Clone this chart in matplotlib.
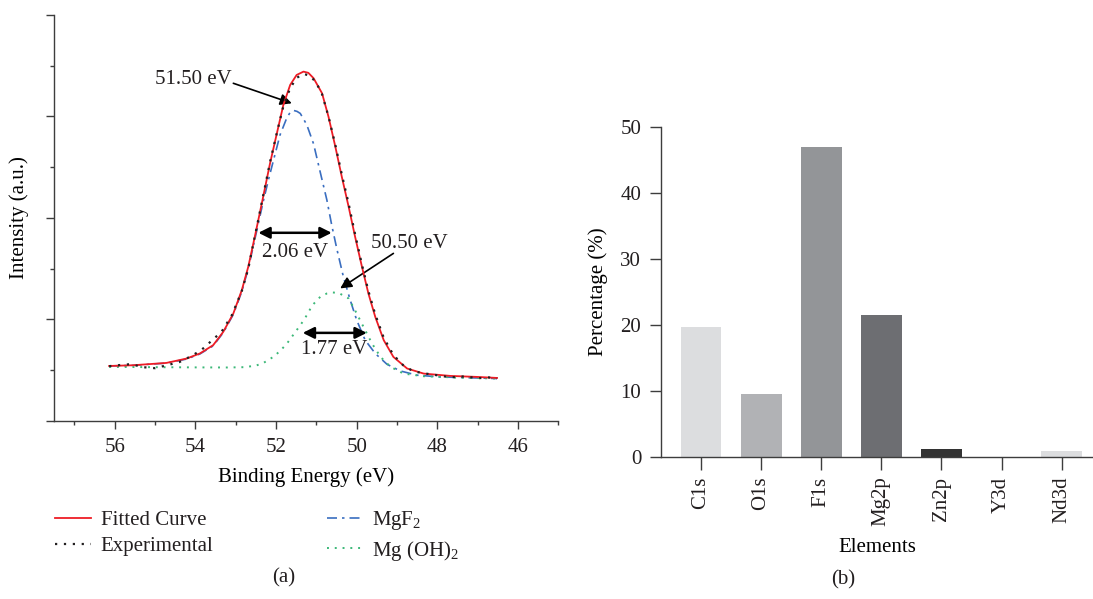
import matplotlib
matplotlib.use("Agg")
import matplotlib.pyplot as plt
from matplotlib.ticker import MultipleLocator

plt.rcParams['font.family'] = ['Liberation Serif', 'DejaVu Serif']
plt.rcParams['mathtext.fontset'] = 'custom'
plt.rcParams['mathtext.rm'] = 'Liberation Serif'
plt.rcParams['mathtext.it'] = 'Liberation Serif:italic'
plt.rcParams['text.color'] = '#231f20'

# ---------------- data: panel (a) XPS Mg2p ----------------
fit_E = [56.14, 55.55, 54.72, 54.22, 53.89, 53.56, 53.31, 53.06, 52.85, 52.69,
         52.51, 52.32, 52.15, 51.98, 51.82, 51.65, 51.49, 51.32, 51.20, 51.07,
         50.86, 50.70, 50.53, 50.37, 50.20, 50.04, 49.87, 49.71, 49.54, 49.33,
         49.09, 48.75, 48.34, 47.68, 47.01, 46.52]
fit_I = [0.542, 0.549, 0.572, 0.615, 0.665, 0.747, 0.878, 1.059, 1.289, 1.519,
         1.848, 2.209, 2.538, 2.834, 3.113, 3.311, 3.409, 3.442, 3.430, 3.377,
         3.229, 2.998, 2.702, 2.406, 2.110, 1.815, 1.519, 1.256, 1.026, 0.796,
         0.631, 0.517, 0.467, 0.444, 0.434, 0.424]

exp_E = [56.14, 55.90, 55.60, 55.30, 55.00, 54.70, 54.40, 54.10, 53.85, 53.60,
         53.35, 53.10, 52.85, 52.69, 52.51, 52.32, 52.15, 51.98, 51.82, 51.65,
         51.49, 51.32, 51.15, 51.00, 50.86, 50.70, 50.53, 50.37, 50.20, 50.04,
         49.87, 49.71, 49.54, 49.33, 49.09, 48.85, 48.60, 48.34, 48.00, 47.68,
         47.30, 47.01, 46.75, 46.52]
exp_I = [0.54, 0.55, 0.56, 0.53, 0.52, 0.55, 0.58, 0.64, 0.70, 0.79,
         0.88, 1.04, 1.28, 1.50, 1.85, 2.22, 2.55, 2.84, 3.10, 3.28,
         3.38, 3.42, 3.40, 3.33, 3.22, 3.00, 2.72, 2.43, 2.14, 1.84,
         1.54, 1.28, 1.05, 0.82, 0.65, 0.55, 0.49, 0.47, 0.45, 0.43,
         0.44, 0.42, 0.43, 0.42]

mgf2_E = [56.14, 55.55, 54.72, 54.22, 53.89, 53.56, 53.31, 53.06, 52.85, 52.69,
          52.51, 52.32, 52.19, 52.07, 51.90, 51.73, 51.65, 51.57, 51.48, 51.40,
          51.24, 51.07, 50.91, 50.74, 50.62, 50.49, 50.33, 50.16, 50.00, 49.79,
          49.54, 49.25, 48.92, 48.50, 47.93, 46.52]
mgf2_I = [0.542, 0.548, 0.570, 0.610, 0.660, 0.740, 0.870, 1.050, 1.275, 1.500,
          1.820, 2.160, 2.374, 2.560, 2.820, 2.990, 3.040, 3.060, 3.050, 3.030,
          2.920, 2.730, 2.460, 2.177, 1.930, 1.690, 1.420, 1.190, 0.993, 0.796,
          0.665, 0.559, 0.493, 0.451, 0.434, 0.418]

mgoh_E = [56.14, 55.00, 54.00, 53.20, 52.80, 52.50, 52.30, 52.07, 51.90, 51.73,
          51.49, 51.30, 51.10, 50.90, 50.74, 50.60, 50.45, 50.20, 50.00, 49.79,
          49.62, 49.41, 49.16, 48.84, 48.34, 47.51, 46.52]
mgoh_I = [0.533, 0.530, 0.528, 0.527, 0.530, 0.545, 0.575, 0.631, 0.690, 0.763,
          0.894, 1.000, 1.140, 1.225, 1.256, 1.266, 1.262, 1.207, 1.059, 0.894,
          0.763, 0.631, 0.533, 0.467, 0.441, 0.428, 0.418]

# annotation labels
peak1_label = "51.50 eV"
peak2_label = "50.50 eV"
fwhm1_label = "2.06 eV"
fwhm2_label = "1.77 eV"

# ---------------- data: panel (b) elements ----------------
elements = ["C1s", "O1s", "F1s", "Mg2p", "Zn2p", "Y3d", "Nd3d"]
percent = [19.7, 9.5, 46.9, 21.5, 1.3, 0.0, 0.9]
bar_colors = ["#dcdddf", "#b1b2b5", "#939598", "#6d6e72", "#333333", "#bcbec0", "#dcdddf"]

axis_col = '#3d3d3d'
txt_col = '#231f20'
FS = 15

fig = plt.figure(figsize=(10.93, 5.99), dpi=100)

# ---------------- panel (a) ----------------
ax1 = fig.add_axes([0.0497, 0.2972, 0.4611, 0.6778])
l_fit, = ax1.plot(fit_E, fit_I, color='#ee1c25', lw=1.3, label='Fitted Curve', zorder=4)
l_exp, = ax1.plot(exp_E, exp_I, color='#231f20', lw=1.6, linestyle=(0, (1, 3)),
                  label='Experimental', zorder=5)
l_mgf, = ax1.plot(mgf2_E, mgf2_I, color='#3a6ec0', lw=1.2, linestyle=(0, (6, 3, 1.5, 3)),
                  label='MgF$_\\mathregular{2}$', zorder=3)
l_moh, = ax1.plot(mgoh_E, mgoh_I, color='#3cb878', lw=1.4, linestyle=(0, (1, 3)),
                  label='Mg (OH)$_\\mathregular{2}$', zorder=3)

ax1.set_xlim(57.5, 45)
ax1.set_ylim(0, 4)
ax1.xaxis.set_major_locator(MultipleLocator(2))
ax1.xaxis.set_minor_locator(MultipleLocator(1))
ax1.yaxis.set_major_locator(MultipleLocator(1))
ax1.yaxis.set_minor_locator(MultipleLocator(0.5))
ax1.set_yticklabels([])
for s in ['top', 'right']:
    ax1.spines[s].set_visible(False)
for s in ['left', 'bottom']:
    ax1.spines[s].set_color(axis_col)
    ax1.spines[s].set_linewidth(1.0)
ax1.tick_params(which='major', direction='out', length=5.5, width=1.0, color=axis_col,
                labelsize=FS, labelcolor=txt_col, pad=6.5)
ax1.tick_params(which='minor', direction='out', length=3.0, width=1.0, color=axis_col)
ax1.set_xlabel('Binding Energy (eV)', fontsize=FS, va='center')
ax1.xaxis.set_label_coords(0.5, -0.138)
ax1.set_ylabel('Intensity (a.u.)', fontsize=FS, va='center')
ax1.yaxis.set_label_coords(-0.07, 0.5)

arrow_single = dict(arrowstyle='-|>', color='black', lw=1.2, mutation_scale=17,
                    shrinkA=0, shrinkB=0)
arrow_double = dict(arrowstyle='<|-|>', color='black', lw=1.8, mutation_scale=17,
                    shrinkA=0, shrinkB=0)

ax1.annotate('', xy=(51.61, 3.13), xytext=(53.06, 3.327), arrowprops=arrow_single)
ax1.text(54.04, 3.36, peak1_label, fontsize=FS, ha='center', va='center')
ax1.annotate('', xy=(50.62, 1.854), xytext=(52.44, 1.854), arrowprops=arrow_double)
ax1.text(51.54, 1.66, fwhm1_label, fontsize=FS, ha='center', va='center')
ax1.annotate('', xy=(50.41, 1.306), xytext=(49.09, 1.651), arrowprops=arrow_single)
ax1.text(48.70, 1.75, peak2_label, fontsize=FS, ha='center', va='center')
ax1.annotate('', xy=(51.34, 0.868), xytext=(49.75, 0.868), arrowprops=arrow_double)
ax1.text(50.56, 0.70, fwhm2_label, fontsize=FS, ha='center', va='center')

fig.legend(handles=[l_fit, l_exp, l_mgf, l_moh], ncol=2, loc='upper left',
           bbox_to_anchor=(0.0505, 0.1505), frameon=False, fontsize=FS,
           handlelength=1.73, handletextpad=0.45, columnspacing=5.45,
           labelspacing=0.32, borderaxespad=0, borderpad=0)

fig.text(284 / 1093, 1 - 578 / 599, '(a)', fontsize=FS, ha='center', va='center')

# ---------------- panel (b) ----------------
ax2 = fig.add_axes([0.6045, 0.2366, 0.3955, 0.5519])
xpos = list(range(len(elements)))
ax2.bar(xpos, percent, width=0.68, color=bar_colors, zorder=2)
ax2.set_xlim(-0.67, 6.52)
ax2.set_ylim(0, 50)
ax2.set_yticks([0, 10, 20, 30, 40, 50])
ax2.set_xticks(xpos)
ax2.set_xticklabels(elements, rotation=90)
for s in ['top', 'right']:
    ax2.spines[s].set_visible(False)
for s in ['left', 'bottom']:
    ax2.spines[s].set_color(axis_col)
    ax2.spines[s].set_linewidth(1.0)
ax2.tick_params(axis='y', direction='out', length=8, width=1.0, color=axis_col,
                labelsize=FS, labelcolor=txt_col, pad=6)
ax2.tick_params(axis='x', direction='out', length=9, width=1.0, color=axis_col,
                labelsize=FS, labelcolor=txt_col, pad=5)
ax2.set_ylabel('Percentage (%)', fontsize=FS, va='center')
ax2.yaxis.set_label_coords(-0.145, 0.5)
ax2.set_xlabel('Elements', fontsize=FS, va='center')
ax2.xaxis.set_label_coords(0.5, -0.2744)

fig.text(843 / 1093, 1 - 580 / 599, '(b)', fontsize=FS, ha='center', va='center')

fig.savefig('out.png', dpi=100)
